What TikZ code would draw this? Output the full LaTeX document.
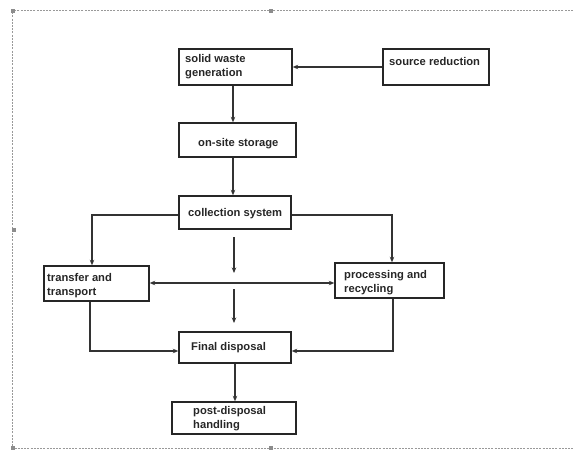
\documentclass[tikz,border=0pt]{standalone}
\usepackage{fontspec}
\setmainfont{Liberation Sans}
\usetikzlibrary{arrows.meta,calc}
\begin{document}
\begin{tikzpicture}[x=1pt,y=-1pt,
  box/.style={draw=black!85,line width=1.4pt,inner sep=0pt,rectangle},
  lbl/.style={anchor=north west,inner sep=0pt,align=left,font=\fontsize{11.2}{14.5}\selectfont\bfseries,text=black!85},
  conn/.style={draw=black!80,line width=1.3pt,-{Stealth[length=5.5pt,width=4.5pt]}},
  frame/.style={draw=black!40,line width=0.5pt,dash pattern=on 2pt off 1.2pt},
  handle/.style={fill=black!45,inner sep=0pt,minimum size=4pt,rectangle}]
\useasboundingbox (0,0) rectangle (573,450);
% frame
\draw[frame] (573,10) -- (12,10) -- (12,448) -- (573,448);
\node[handle] (h1) at (13,11) {};
\node[handle] (h2) at (271,11) {};
\node[handle] (h3) at (14,230) {};
\node[handle] (h4) at (13,448) {};
\node[handle] (h5) at (271,448) {};
% boxes
\node[box,minimum width=113pt,minimum height=36pt] (swg) at (235.5,67) {};
\node[box,minimum width=106pt,minimum height=36pt] (sr) at (436,67) {};
\node[box,minimum width=117pt,minimum height=34pt] (oss) at (237.5,140) {};
\node[box,minimum width=112pt,minimum height=33pt] (cs) at (235,212.5) {};
\node[box,minimum width=105pt,minimum height=35pt] (tt) at (96.5,283.5) {};
\node[box,minimum width=109pt,minimum height=35pt] (pr) at (389.5,280.5) {};
\node[box,minimum width=112pt,minimum height=31pt] (fd) at (235,347.5) {};
\node[box,minimum width=124pt,minimum height=32pt] (pdh) at (234,418) {};
% labels
\node[lbl] (tswg) at (185,54) {solid waste\\generation};
\node[lbl] (tsr) at (389,57) {source reduction};
\node[lbl] (toss) at (198,138) {on-site storage};
\node[lbl] (tcs) at (188,208) {collection system};
\node[lbl] (ttt) at (47,273) {transfer and\\transport};
\node[lbl] (tpr) at (344,270) {processing and\\recycling};
\node[lbl] (tfd) at (191,342) {Final disposal};
\node[lbl] (tpdh) at (193,406) {post-disposal\\handling};
% free-end coordinates
\coordinate (a1) at (234,237);
\coordinate (a2) at (234,273);
\coordinate (m) at (234,283);
\coordinate (a3) at (234,289);
\coordinate (a4) at (234,323);
% connectors
\draw[conn] (sr.west) -- (swg.east);
\draw[conn] ([xshift=-2.5pt]swg.south) -- ([xshift=-2.5pt]swg.south |- oss.north);
\draw[conn] ([xshift=-2pt]oss.south -| cs.north) -- ([xshift=-2pt]cs.north);
\draw[conn] ([yshift=-2.5pt]cs.west) -| ([xshift=-4.5pt]tt.north);
\draw[conn] ([yshift=-2.5pt]cs.east) -| ([xshift=2.5pt]pr.north);
\draw[conn] (a1) -- (a2);
\draw[conn,{Stealth[length=5.5pt,width=4.5pt]}-{Stealth[length=5.5pt,width=4.5pt]}] (tt.east |- m) -- (pr.west |- m);
\draw[conn] (a3) -- (a4);
\draw[conn] ([xshift=-6.5pt]tt.south) |- ([yshift=-3.5pt]fd.west);
\draw[conn] ([xshift=3.5pt]pr.south) |- ([yshift=-3.5pt]fd.east);
\draw[conn] (fd.south) -- (fd.south |- pdh.north);
\end{tikzpicture}
\end{document}
